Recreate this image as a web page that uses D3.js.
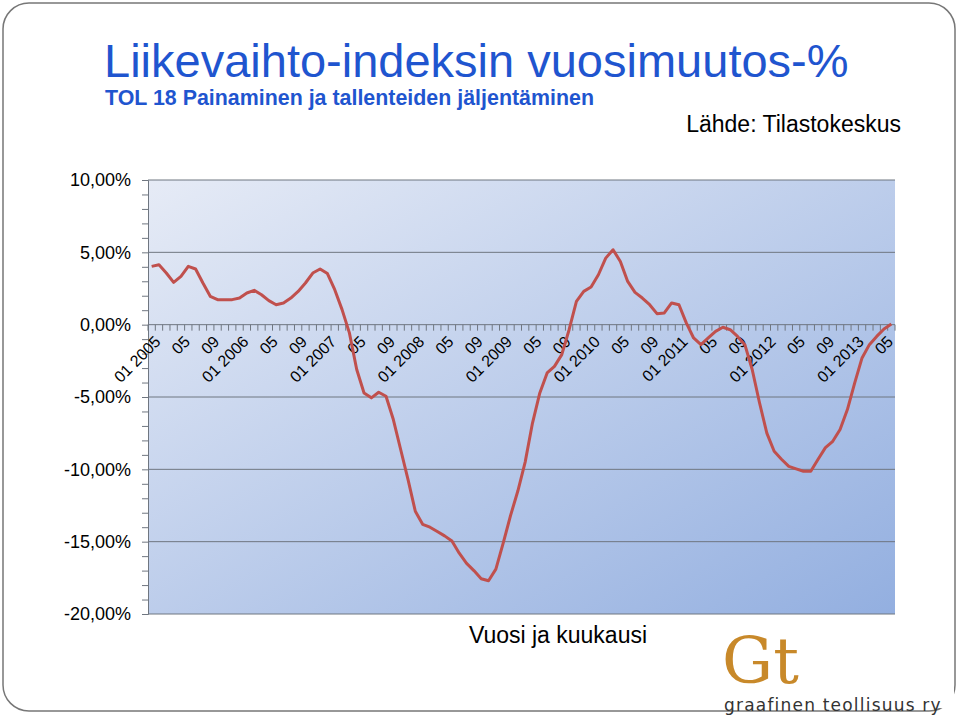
<!DOCTYPE html>
<html><head><meta charset="utf-8">
<script src="https://cdn.jsdelivr.net/npm/d3@7"></script>
<style>body{margin:0;background:#fff}svg{display:block}</style>
</head><body>
<div id="chart"></div>
<script>
// Monthly year-on-year change (%), 01/2005 - 06/2013
const years = [2005, 2006, 2007, 2008, 2009, 2010, 2011, 2012, 2013];
const values = [
  4.03, 4.14, 3.57, 2.92, 3.34, 4.03, 3.85, 2.88, 1.96, 1.73, 1.73, 1.73,
  1.84, 2.19, 2.37, 2.07, 1.66, 1.38, 1.50, 1.84, 2.30, 2.88, 3.57, 3.85,
  3.53, 2.42, 1.04, -0.57, -3.1, -4.72, -5.06, -4.67, -4.95, -6.56, -8.63, -10.7,
  -12.9, -13.8, -14.0, -14.3, -14.6, -14.96, -15.8, -16.5, -17.0, -17.56, -17.7, -16.9,
  -15.1, -13.2, -11.5, -9.5, -6.8, -4.72, -3.34, -2.88, -2.07, -0.35, 1.61, 2.30,
  2.6, 3.45, 4.6, 5.18, 4.37, 2.99, 2.23, 1.84, 1.38, 0.76, 0.81, 1.5,
  1.38, 0.12, -0.92, -1.38, -0.92, -0.46, -0.18, -0.35, -0.81, -1.38, -3.1, -5.4,
  -7.5, -8.75, -9.3, -9.8, -9.97, -10.13, -10.13, -9.3, -8.5, -8.06, -7.25, -5.87,
  -4.03, -2.3, -1.38, -0.81, -0.3, 0.04
];
const yTicks = [10, 5, 0, -5, -10, -15, -20];
const months = values.map((v, i) => {
  const m = i % 12 + 1, yr = years[Math.floor(i / 12)];
  return { i, m, yr, v };
});

const W = 960, H = 717;
const font = "Liberation Sans, Arial, sans-serif";
const svg = d3.select("#chart").append("svg").attr("width", W).attr("height", H);
const defs = svg.append("defs");
const grad = defs.append("linearGradient").attr("id", "bg")
  .attr("x1", "0%").attr("y1", "0%").attr("x2", "100%").attr("y2", "100%");
grad.append("stop").attr("offset", "0%").attr("stop-color", "#e6ebf6");
grad.append("stop").attr("offset", "100%").attr("stop-color", "#93afe0");

// outer frame
svg.append("rect").attr("x", 3).attr("y", 3).attr("width", 952).attr("height", 708)
  .attr("rx", 26).attr("fill", "#fff").attr("stroke", "#777").attr("stroke-width", 1.5);

const pLeft = 148, pRight = 895, pTop = 180, pBottom = 614;
const x = d3.scaleBand().domain(months.map(d => d.i)).range([pLeft, pRight]);
const y = d3.scaleLinear().domain([-20, 10]).range([pBottom, pTop]);

svg.append("rect").attr("x", pLeft).attr("y", pTop).attr("width", pRight - pLeft)
  .attr("height", pBottom - pTop).attr("fill", "url(#bg)");

// gridlines
svg.append("g").selectAll("line").data(yTicks.filter(t => t !== 0)).join("line")
  .attr("x1", pLeft).attr("x2", pRight).attr("y1", d => y(d)).attr("y2", d => y(d))
  .attr("stroke", "#6f7680").attr("stroke-width", 1);

// y axis with minor ticks
const yAxis = d3.axisLeft(y).tickValues(d3.range(-20, 10.01, 1)).tickSize(6).tickFormat("");
svg.append("g").attr("transform", `translate(${pLeft},0)`).call(yAxis)
  .call(g => g.selectAll("line,path").attr("stroke", "#6f7680"));
svg.append("g").selectAll("text").data(yTicks).join("text")
  .attr("x", 131).attr("y", d => y(d)).attr("dy", "0.35em").attr("text-anchor", "end")
  .attr("font-family", font).attr("font-size", 18)
  .text(d => d3.format(".2f")(d).replace("−", "-").replace(".", ",") + "%");

// x axis at zero
const xg = svg.append("g");
xg.append("line").attr("x1", pLeft).attr("x2", pRight).attr("y1", y(0)).attr("y2", y(0))
  .attr("stroke", "#6f7680");
xg.selectAll("line.t").data(d3.range(months.length + 1)).join("line").attr("class", "t")
  .attr("x1", d => pLeft + d * x.step()).attr("x2", d => pLeft + d * x.step())
  .attr("y1", y(0)).attr("y2", y(0) + 6).attr("stroke", "#6f7680");
xg.selectAll("text").data(months.filter(d => d.m % 4 === 1)).join("text")
  .attr("transform", d => `translate(${x(d.i) + x.bandwidth() / 2 + 6},${y(0) + 14}) rotate(-45)`)
  .attr("text-anchor", "end").attr("dy", "0.35em")
  .attr("font-family", font).attr("font-size", 16)
  .text(d => d.m === 1 ? `01 ${d.yr}` : d3.format("02")(d.m));

// line
svg.append("path").datum(months)
  .attr("fill", "none").attr("stroke", "#c0504d").attr("stroke-width", 3)
  .attr("stroke-linejoin", "round")
  .attr("d", d3.line().x(d => x(d.i) + x.bandwidth() / 2).y(d => y(d.v)));

// titles
svg.append("text").attr("x", 104).attr("y", 77).attr("font-family", font).attr("font-size", 47)
  .attr("fill", "#1f55cf").text("Liikevaihto-indeksin vuosimuutos-%");
svg.append("text").attr("x", 105).attr("y", 105).attr("font-family", font).attr("font-size", 21.4)
  .attr("font-weight", "bold").attr("fill", "#1f55cf").text("TOL 18 Painaminen ja tallenteiden jäljentäminen");
svg.append("text").attr("x", 901).attr("y", 132).attr("text-anchor", "end").attr("font-family", font)
  .attr("font-size", 23).text("Lähde: Tilastokeskus");
svg.append("text").attr("x", 558).attr("y", 643).attr("text-anchor", "middle").attr("font-family", font)
  .attr("font-size", 23).text("Vuosi ja kuukausi");

// logo
svg.append("rect").attr("x", 700).attr("y", 620).attr("width", 254).attr("height", 88).attr("fill", "#fff");
svg.append("text").attr("x", 722).attr("y", 683).attr("font-family", "DejaVu Serif, serif")
  .attr("font-size", 64).attr("fill", "#c8892a").text("Gt");
svg.append("text").attr("x", 724).attr("y", 711).attr("font-family", "DejaVu Sans, sans-serif")
  .attr("font-size", 17).attr("letter-spacing", 1.2).attr("fill", "#333").text("graafinen teollisuus ry");
</script>
</body></html>
